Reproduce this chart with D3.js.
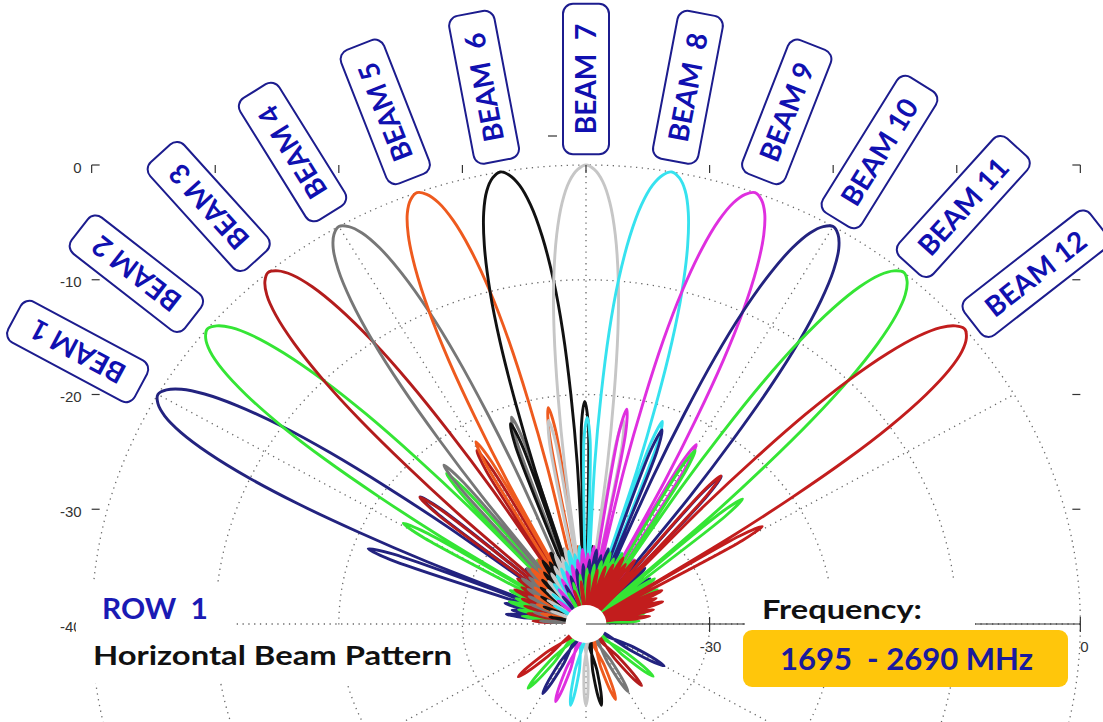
<!DOCTYPE html>
<html lang="en">
<head>
<meta charset="UTF-8">
<title>Horizontal Beam Pattern - Row 1</title>
<style>
  body { margin: 0; background: #fff; }
  svg { display: block; }
  .grid { fill: none; stroke: #6a6a6a; stroke-width: 1.3; stroke-dasharray: 1.3 4.5; }
  .tick { stroke: #333; stroke-width: 1.2; fill: none; }
  .axlab { font-family: "Liberation Sans", Arial, sans-serif; font-size: 15px; fill: #333; }
  .beam { fill: none; stroke-width: 2.9; stroke-linejoin: round; }
  .tag rect { fill: #fff; stroke: #1c1c8e; stroke-width: 2; }
  .tag text { font-family: Lato, sans-serif; font-weight: 700; font-size: 28px; fill: #1010b0; white-space: pre; }
  .note { font-family: Lato, sans-serif; font-weight: 700; white-space: pre; }
</style>
</head>
<body>
<svg id="chart" width="1103" height="722"></svg>
<script src="https://cdn.jsdelivr.net/npm/d3@7"></script>
<script>
// ---- data ----
const beamNames = ["BEAM 1", "BEAM 2", "BEAM 3", "BEAM 4", "BEAM 5", "BEAM  6",
                   "BEAM  7", "BEAM  8", "BEAM 9", "BEAM 10", "BEAM 11", "BEAM 12"];
// pointing direction of each beam, degrees counter-clockwise from 3 o'clock
const steerDeg = [150, 140, 130, 120, 110, 100, 90, 80, 70, 60, 50, 40];
const beamColors = ["#23237f", "#35e535", "#b31c1c", "#777777", "#ee5a1e", "#111111",
                    "#c6c6c6", "#36e2ef", "#df2fdf", "#23237f", "#35e535", "#c21d1d"];

// main lobe, one side (offset from beam direction in deg -> gain in dB), same for all beams
const mainOff = [0, 1, 2, 3, 4, 5, 5.8, 6.5, 7.1, 7.8];
const mainDb  = [0, -0.4, -1.4, -3.2, -6, -10, -14.5, -20, -26, -40];

// first sidelobes: offset of the peak (deg) and peak gain (dB), lower-angle side and upper-angle side
const slLoOff = [9.6, 9.3, 9.7, 11.5, 10.8, 9.7, 9.7, 9.3, 9.7, 10.4, 9.3, 9.2];
const slLoDb  = [-22.6, -22.7, -22.5, -21, -20.9, -20.6, -22, -21.3, -22, -23.1, -23.3, -23.4];
const slHiOff = [9.6, 9.3, 10.6, 9.7, 9.3, 9.3, 9.7, 9.7, 10, 10, 9.7, 9.8];
const slHiDb  = [-21.2, -22.8, -22.6, -22, -21.8, -21.5, -22, -22, -21, -22, -22.5, -23.1];

// low level ripple lobes crowding the centre (offset deg, peak dB)
const rippleOff = [14.5, 18.5, 22.5, 27, 32.5, 39, 46.5, 56, 68];
const rippleDb  = [-33.2, -33.9, -33.5, -34.4, -34.8, -35.2, -35.7, -36.3, -37];

// back lobe peak (dB) of every beam, straight opposite the main lobe
const backDb = [-32.7, -32.9, -33.0, -33.2, -33.0, -32.8, -32.9, -32.8, -32.8, -33.0, -32.7, -32.85];

// lobe outlines around a peak: offset (deg) and level relative to the peak (dB)
const slShapeOff = [-0.9, 0, 0.9],  slShapeDb = [-2, 0, -2];
const rpShapeOff = [-1.2, 0, 1.2],  rpShapeDb = [-1.2, 0, -1.2];
const bkShapeOff = [-2.4, -1.2, 0, 1.2, 2.4], bkShapeDb = [-3, -0.8, 0, -0.8, -3];

const radialTicks = [0, -10, -20, -30, -40];
const bottomTicks = [-30, 0];

// ---- layout ----
const svg = d3.select("#chart");
const cx = 586, cy = 624, R = 459, sx = 1.077;
const r = d3.scaleLinear().domain([-40, 0]).range([0, R]).clamp(true);
const rad = d => d * Math.PI / 180;

const plot = svg.append("g").attr("transform", `translate(${cx},${cy}) scale(${sx},1)`);

// polar grid
plot.selectAll("circle.ring").data([-30, -20, -10, 0]).enter().append("circle")
  .attr("class", "grid").attr("r", d => r(d)).attr("vector-effect", "non-scaling-stroke");
plot.selectAll("line.spoke").data(d3.range(0, 360, 30)).enter().append("line")
  .attr("class", "grid").attr("vector-effect", "non-scaling-stroke")
  .attr("x1", 0).attr("y1", 0)
  .attr("x2", d => R * Math.cos(rad(d))).attr("y2", d => -R * Math.sin(rad(d)));

// box axis ticks
const xl = cx - R * sx, xr = cx + R * sx, yt = cy - R;
const ax = svg.append("g");
radialTicks.forEach(t => {
  const y = cy - r(t);
  if (t > -40) {
    ax.append("line").attr("class", "tick").attr("x1", xl).attr("x2", xl + 8).attr("y1", y).attr("y2", y);
    ax.append("line").attr("class", "tick").attr("x1", xr - 8).attr("x2", xr).attr("y1", y).attr("y2", y);
  }
  ax.append("text").attr("class", "axlab").attr("x", xl - 10).attr("y", y + 2)
    .attr("text-anchor", "end").attr("dominant-baseline", "central").text(t);
});
ax.append("line").attr("class", "tick").attr("x1", xl).attr("x2", xl).attr("y1", yt).attr("y2", yt + 8);
ax.append("line").attr("class", "tick").attr("x1", xr).attr("x2", xr).attr("y1", yt).attr("y2", yt + 8);
d3.range(-3, 4).forEach(k => {
  const x = cx + k * R * sx / 4;
  ax.append("line").attr("class", "tick").attr("x1", x).attr("x2", x).attr("y1", yt).attr("y2", yt + 8);
});
ax.append("line").attr("class", "tick").attr("x1", 548).attr("x2", 557).attr("y1", 136).attr("y2", 136);
// bottom axis line to the right of the centre
ax.append("line").attr("class", "tick").attr("x1", cx).attr("x2", xr).attr("y1", cy).attr("y2", cy);
bottomTicks.forEach(t => {
  const x = cx + sx * r(t);
  ax.append("line").attr("class", "tick").attr("x1", x).attr("x2", x).attr("y1", cy - 7).attr("y2", cy + 8);
  ax.append("text").attr("class", "axlab").attr("x", x + (t === 0 ? 4 : 1)).attr("y", cy + 28)
    .attr("text-anchor", "middle").text(t);
});

// ---- beam patterns ----
function beamPoints(i) {
  const th = steerDeg[i];
  const pts = [];
  const add = (off, db) => {
    const last = pts[pts.length - 1];
    if (db <= -40 && last && last[1] <= -40) return;
    pts.push([th + off, db]);
  };
  const inFront = off => { const a = th + off; return a > 3 && a < 177; };
  // main lobe
  for (let k = mainOff.length - 1; k > 0; k--) add(-mainOff[k], mainDb[k]);
  for (let k = 0; k < mainOff.length; k++) add(mainOff[k], mainDb[k]);
  // upper side: first sidelobe then ripple lobes
  if (inFront(slHiOff[i])) {
    slShapeOff.forEach((o, k) => add(slHiOff[i] + o, slHiDb[i] + slShapeDb[k]));
    add(slHiOff[i] + 1.6, -40);
  }
  rippleOff.forEach((c, j) => {
    if (!inFront(c)) return;
    rpShapeOff.forEach((o, k) => add(c + o, rippleDb[j] + rpShapeDb[k]));
    add(c + 2, -40);
  });
  // back lobe
  bkShapeOff.forEach((o, k) => add(180 + o, backDb[i] + bkShapeDb[k]));
  add(184, -40);
  // lower side, walking back towards the main lobe
  for (let j = rippleOff.length - 1; j >= 0; j--) {
    const c = -rippleOff[j];
    if (!inFront(c)) continue;
    rpShapeOff.forEach((o, k) => add(c + o, rippleDb[j] + rpShapeDb[k]));
    add(c + 2, -40);
  }
  if (inFront(-slLoOff[i])) {
    add(-slLoOff[i] - 1.6, -40);
    slShapeOff.forEach((o, k) => add(-slLoOff[i] + o, slLoDb[i] + slShapeDb[k]));
  }
  if (pts[pts.length - 1][1] <= -40 && pts[0][1] <= -40) pts.pop();
  return pts;
}

const line = d3.lineRadial()
  .angle(p => rad(90 - p[0]))
  .radius(p => r(p[1]))
  .curve(d3.curveCatmullRomClosed.alpha(0.5));

plot.selectAll("path.beam").data(steerDeg.map((d, i) => i)).enter().append("path")
  .attr("class", "beam")
  .attr("vector-effect", "non-scaling-stroke")
  .attr("stroke", i => beamColors[i])
  .attr("d", i => line(beamPoints(i)));

plot.append("circle").attr("r", 19).attr("fill", "#fff");

// ---- beam tags ----
const tagR = 545;
beamNames.forEach((name, i) => {
  const th = rad(steerDeg[i]);
  const x = cx + sx * tagR * Math.cos(th), y = cy - tagR * Math.sin(th);
  const rot = -Math.atan2(Math.sin(th), sx * Math.cos(th)) * 180 / Math.PI;
  const t = svg.append("g").attr("class", "tag").attr("transform", `translate(${x},${y}) rotate(${rot})`);
  const box = t.append("rect");
  const txt = t.append("text").attr("text-anchor", "middle").attr("dy", "0.36em").text(name);
  const w = txt.node().getComputedTextLength() + 40;
  box.attr("x", -w / 2).attr("y", -23).attr("width", w).attr("height", 46).attr("rx", 10);
});

// ---- notes ----
svg.append("rect").attr("x", 76).attr("y", 582).attr("width", 157).attr("height", 44).attr("fill", "#fff");
svg.append("rect").attr("x", 76).attr("y", 626).attr("width", 380).attr("height", 57).attr("fill", "#fff");
svg.append("text").attr("class", "note").attr("x", 102).attr("y", 619)
  .attr("font-size", 28).attr("fill", "#1a1ab4")
  .attr("textLength", 106).attr("lengthAdjust", "spacingAndGlyphs").text("ROW  1");
svg.append("text").attr("class", "note").attr("x", 93).attr("y", 665)
  .attr("font-size", 27).attr("fill", "#111")
  .attr("textLength", 359).attr("lengthAdjust", "spacingAndGlyphs").text("Horizontal Beam Pattern");

svg.append("rect").attr("x", 745).attr("y", 582).attr("width", 230).attr("height", 48).attr("fill", "#fff");
svg.append("text").attr("class", "note").attr("x", 762).attr("y", 619)
  .attr("font-size", 27).attr("fill", "#111")
  .attr("textLength", 160).attr("lengthAdjust", "spacingAndGlyphs").text("Frequency:");
svg.append("rect").attr("x", 743).attr("y", 630).attr("width", 325).attr("height", 57).attr("rx", 9)
  .attr("fill", "#ffc60b");
svg.append("text").attr("class", "note").attr("x", 780).attr("y", 670)
  .attr("font-size", 30).attr("fill", "#1a1a9c")
  .attr("textLength", 253).attr("lengthAdjust", "spacingAndGlyphs").text("1695  - 2690 MHz");
</script>
</body>
</html>
